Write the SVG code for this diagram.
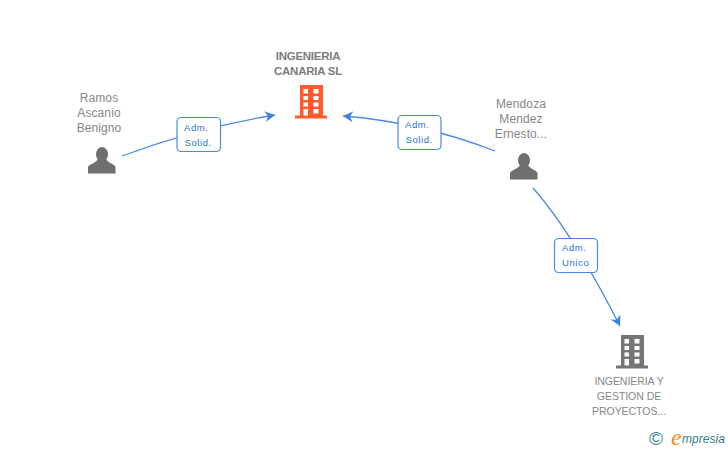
<svg xmlns="http://www.w3.org/2000/svg" width="728" height="450" viewBox="0 0 728 450">
<style>
text{font-family:"Liberation Sans",Arial,sans-serif}
.n{font-size:12px;fill:#868686;text-anchor:middle;letter-spacing:.1px}
.g{font-size:10.500px;letter-spacing:-.05px}
.nb{font-size:11.500px;fill:#7c7c7c;text-anchor:middle;font-weight:bold;letter-spacing:-.25px}
.l{font-size:9.500px;fill:#2673dc;letter-spacing:.6px}
.c{fill:none;stroke:#4a8ae6;stroke-width:1.300}
.b{fill:#fff;stroke:#4a8ae6;stroke-width:1.200}
.p{fill:#6f6f6f}
</style>
<defs>
<marker id="a" markerWidth="12" markerHeight="12" refX="10" refY="5.500" orient="auto" markerUnits="userSpaceOnUse"><path d="M0 0L10 5.500L0 11L3 5.500Z" fill="#3f82e4"/></marker>
<g id="person"><ellipse cx="14" cy="7.500" rx="6" ry="7.500"/><path d="M0 26.500V20.500C0 17.500 6 17 9.500 13H18.500C22 17 27.500 17.500 27.500 20.500V26.500Z"/></g>
<g id="building"><path fill-rule="evenodd" d="M5 0H28V30.500H32V33.500H0V30.500H5ZM8.500 4V8.500H13V4ZM18.500 4V8.500H23.500V4ZM8.500 11V15H13V11ZM18.500 11V15H23.500V11ZM8.500 17.500V21.500H13V17.500ZM18.500 17.500V21.500H23.500V17.500ZM8.500 24V30.500H13V24ZM18.500 24V28.500H23.500V24Z"/></g>
</defs>
<g id="connectors">
<path class="c" marker-end="url(#a)" d="M122 156Q200 127 275 115"/>
<path class="c" marker-end="url(#a)" d="M495 151Q420 122 343 116"/>
<path class="c" marker-end="url(#a)" d="M533 188Q572 232 620 326"/>
</g>
<g id="edge-label-1"><rect class="b" x="177" y="117.500" width="43.500" height="34" rx="4"/><text class="l" x="184" y="131">Adm.</text><text class="l" x="184.500" y="146">Solid.</text></g>
<g id="edge-label-2"><rect class="b" x="398" y="115.500" width="43" height="34" rx="4"/><text class="l" x="405" y="128">Adm.</text><text class="l" x="405.500" y="143">Solid.</text></g>
<g id="edge-label-3"><rect class="b" x="554.500" y="238.500" width="43" height="34" rx="4"/><text class="l" x="562" y="251">Adm.</text><text class="l" x="562" y="266">Unico</text></g>
<g id="node-ramos"><text class="n" x="99" y="102">Ramos</text><text class="n" x="99" y="117">Ascanio</text><text class="n" x="99" y="132">Benigno</text><use href="#person" class="p" x="88" y="147"/></g>
<g id="node-ingenieria-canaria"><text class="nb" x="308" y="60">INGENIERIA</text><text class="nb" x="308" y="75">CANARIA SL</text><use href="#building" fill="#ff5c2e" x="295" y="85"/></g>
<g id="node-mendoza"><text class="n" x="521" y="108">Mendoza</text><text class="n" x="521" y="123">Mendez</text><text class="n" x="521" y="138">Ernesto...</text><use href="#person" class="p" x="510" y="153"/></g>
<g id="node-ingenieria-gestion"><use href="#building" fill="#757575" x="616" y="335"/><text class="n g" x="629" y="385">INGENIERIA Y</text><text class="n g" x="629" y="400">GESTION DE</text><text class="n g" x="629" y="415">PROYECTOS...</text></g>
<g id="watermark"><text x="649" y="445" font-size="19" fill="#3c7f92">©</text><text x="671" y="445" font-size="24" fill="#f08a1d" font-style="italic" style="font-family:'Liberation Serif',serif">e</text><text x="682" y="443" font-size="12" fill="#2f7f8f" font-style="italic" textLength="43" lengthAdjust="spacing">mpresia</text></g>
</svg>
